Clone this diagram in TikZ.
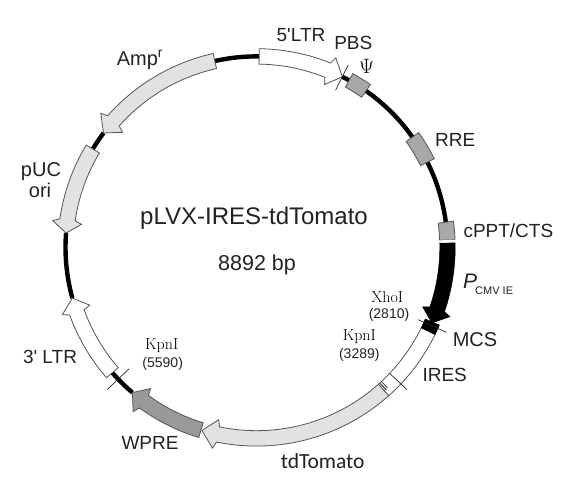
\documentclass[tikz,border=0pt]{standalone}
\usepackage{fontspec}
\setmainfont{Latin Modern Roman}
\newfontfamily\lsans{Liberation Sans}
\newfontfamily\carl{Carlito}
\definecolor{ink}{HTML}{222222}
\definecolor{edgec}{HTML}{555555}
\definecolor{lgray}{HTML}{E2E2E2}
\definecolor{mgray}{HTML}{A8A8A8}
\definecolor{dgray}{HTML}{999999}
% #1 tail, #2 neck, #3 barb, #4 tip, #5 style
\newcommand{\genearrow}[5]{%
  \path[#5] (#1:198.7) arc[start angle=#1,end angle=#2,radius=198.7]
    -- (#3:205.5) -- (#4:191) -- (#3:176.5) -- (#2:183.3)
    arc[start angle=#2,end angle=#1,radius=183.3] -- cycle;}
\newcommand{\genebox}[3]{%
  \path[#3] (#1:198.7) arc[start angle=#1,end angle=#2,radius=198.7]
    -- (#2:183.3) arc[start angle=#2,end angle=#1,radius=183.3] -- cycle;}
\newcommand{\backbone}[2]{\draw[ringline] (#1:191) arc[start angle=#1,end angle=#2,radius=191];}
\newcommand{\sitetick}[3]{\draw[tickline] (#1:#2) -- (#1:#3);}
\tikzset{
  ringline/.style={line width=4.4pt,black},
  tickline/.style={line width=0.7pt,black!85},
  genew/.style={draw=edgec,line width=0.8pt,fill=white,line join=miter},
  genel/.style={draw=edgec,line width=0.8pt,fill=lgray,line join=miter},
  geneg/.style={draw=edgec,line width=0.8pt,fill=mgray},
  gened/.style={draw=edgec,line width=0.8pt,fill=dgray},
  genek/.style={draw=black,line width=0.5pt,fill=black},
  lab/.style={text=ink,inner sep=0pt,font=\lsans\fontsize{19}{21}\selectfont},
  small/.style={text=ink,inner sep=0pt,font=\lsans\fontsize{14}{16}\selectfont},
  serif/.style={text=black,inner sep=0pt,font=\fontsize{16}{18}\selectfont},
}
\begin{document}
\begin{tikzpicture}[x=1pt,y=1pt]
\useasboundingbox (0,0) rectangle (573,497);
\fill[white] (0,0) rectangle (573,497);
\begin{scope}[shift={(256.5pt,249.6pt)}]
  \backbone{102.6}{89.2}
  \backbone{63.3}{2.2}
  \backbone{143.2}{149}
  \backbone{175.7}{195.4}
  \backbone{-130.5}{-139}
  \genearrow{89.2}{68.1}{67.3}{63.3}{genew}
  \sitetick{63.3}{176}{204}
  \genebox{61}{55}{geneg}
  \genebox{35.3}{26.5}{geneg}
  \genebox{7.6}{2.2}{geneg}
  \path[white,fill=white] (2.2:200) arc[start angle=2.2,end angle=1.3,radius=200] -- (1.3:182) arc[start angle=1.3,end angle=2.2,radius=182] -- cycle;
  \genebox{-26}{-48.3}{genew}
  \genebox{-23}{-26}{genek}
  \genearrow{1.3}{-18.9}{-19.7}{-23.3}{genek}
  \sitetick{-24.1}{177}{208}
  \sitetick{-43.4}{183.5}{207}
  \genearrow{-48.3}{-101.6}{-102.4}{-106.6}{genel}
  \draw[line width=1pt,black!80] (-47.7:184) -- (-47.7:193);
  \draw[line width=0.7pt,black!80] (-47:184) -- (-47:192);
  \genearrow{-106.9}{-126.1}{-126.9}{-130.5}{gened}
  \sitetick{-136.4}{176}{206}
  \genearrow{-139}{-160.1}{-160.9}{-164.6}{genew}
  \genearrow{149}{171.7}{172.5}{175.7}{genel}
  \genearrow{102.6}{138.5}{139.3}{143.2}{genel}
\end{scope}
\begin{scope}[yshift=497pt,y=-1pt]
  \node[lab] (ltrfive) at (301,35) {5'LTR};
  \node[lab] (pbs) at (353.3,42.7) {PBS};
  \node[text=black,inner sep=0pt,font=\fontsize{21}{23}\selectfont] (psi) at (366.7,66.7) {$\Psi$};
  \node[lab,anchor=west] (rre) at (435,140) {RRE};
  \node[lab,anchor=west] (cppt) at (463.3,230.7) {cPPT/CTS};
  \node[text=ink,inner sep=0pt,anchor=west,font=\lsans\itshape\fontsize{21}{23}\selectfont] (pcmv) at (463,281) {P};
  \node[text=ink,inner sep=0pt,anchor=west,font=\lsans\fontsize{11}{13}\selectfont] (cmvie) at (475,290.7) {CMV IE};
  \node[text=ink,inner sep=0pt,font=\lsans\fontsize{20}{22}\selectfont] (mcs) at (475,340) {MCS};
  \node[lab] (ires) at (444.7,375) {IRES};
  \node[serif] (xho) at (387.3,296.7) {XhoI};
  \node[small] (xhon) at (389,315) {(2810)};
  \node[serif] (kpna) at (359.3,336.7) {KpnI};
  \node[small] (kpnan) at (359.3,355) {(3289)};
  \node[serif] (kpnb) at (161.7,346) {KpnI};
  \node[small] (kpnbn) at (162.7,364) {(5590)};
  \node[lab] (ltrthree) at (50,357) {3' LTR};
  \node[lab] (wpre) at (150,443.3) {WPRE};
  \node[text=ink,inner sep=0pt,font=\carl\fontsize{21.5}{24}\selectfont] (td) at (322.7,461) {tdTomato};
  \node[text=ink,inner sep=0pt,font=\lsans\fontsize{20}{22}\selectfont] (amp) at (140,60) {Amp\textsuperscript{r}};
  \node[text=ink,inner sep=0pt,font=\lsans\fontsize{20}{22}\selectfont] (puc) at (41,172) {pUC};
  \node[text=ink,inner sep=0pt,font=\lsans\fontsize{20}{22}\selectfont] (ori) at (40,190) {ori};
  \node[text=ink,inner sep=0pt,font=\lsans\fontsize{24}{26}\selectfont] (title) at (254,218) {pLVX-IRES-tdTomato};
  \node[text=ink,inner sep=0pt,font=\lsans\fontsize{21.5}{24}\selectfont] (bp) at (257,265) {8892 bp};
\end{scope}
\end{tikzpicture}
\end{document}
